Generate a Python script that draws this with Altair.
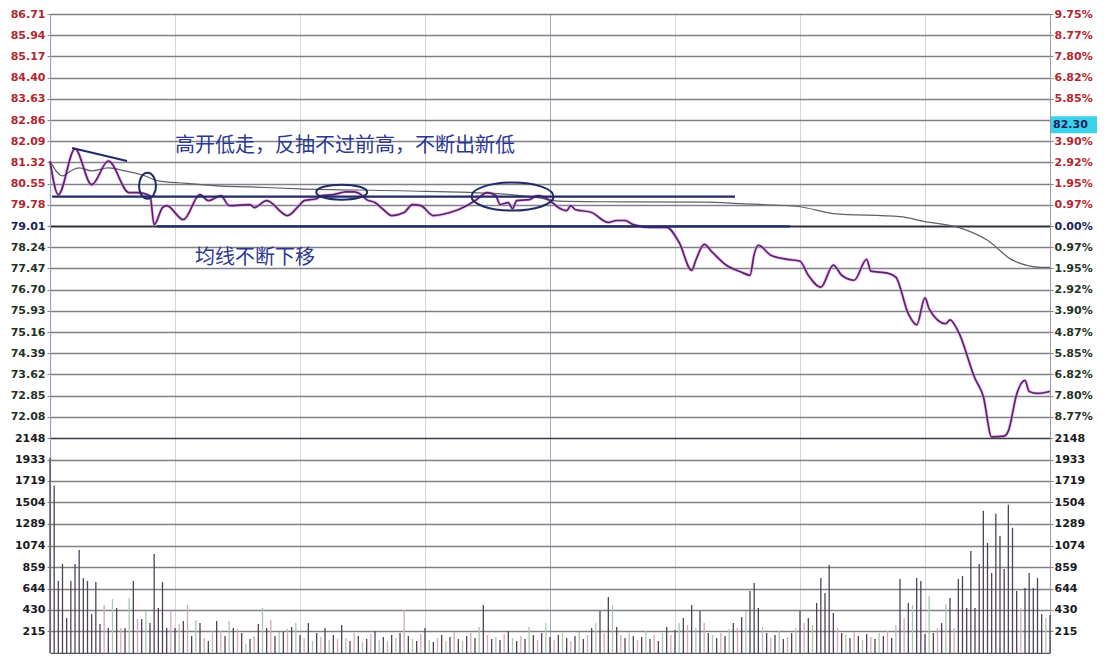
import altair as alt
import pandas as pd

# ---------------- data ----------------
price_minutes = [0, 2, 6, 10, 14, 19, 21, 24, 25, 27, 28, 32, 36, 38, 41, 43, 48, 49, 52, 57,
                 60, 61, 64, 65, 68, 71, 73, 75, 76, 78, 80, 82, 85, 87, 89, 92, 96, 100, 102, 105,
                 107, 108, 110, 111, 112, 115, 117, 120, 122, 124, 125, 126, 130, 134, 136, 138, 140, 144, 148, 151,
                 154, 155, 157, 159, 162, 166, 168, 169, 170, 173, 177, 180, 182, 185, 188, 190, 193, 196, 197, 201,
                 203, 206, 208, 210, 211, 215, 216, 218, 222, 224, 226, 229, 230, 232, 234, 235, 237, 240]
price_values = [81.37, 80.15, 81.81, 80.51, 81.37, 80.22, 80.22, 80.11, 79.06, 79.68,
                79.75, 79.24, 80.15, 79.93, 80.11, 79.75, 79.79, 79.68, 79.93, 79.39,
                79.79, 79.93, 80.00, 80.11, 80.15, 80.25, 80.25, 80.11, 79.97, 79.86,
                79.61, 79.39, 79.50, 79.79, 79.75, 79.39, 79.50, 79.75, 79.93, 80.22,
                80.11, 79.79, 79.86, 79.64, 79.93, 79.97, 80.11, 79.93, 79.68, 79.57,
                79.75, 79.61, 79.50, 79.14, 79.21, 79.21, 79.06, 78.96, 78.96, 78.41,
                77.40, 77.77, 78.34, 78.05, 77.62, 77.33, 77.22, 77.98, 78.31, 77.95,
                77.80, 77.73, 77.22, 76.79, 77.59, 77.22, 77.04, 77.80, 77.37, 77.30,
                77.15, 75.82, 75.42, 76.40, 76.00, 75.46, 75.60, 75.17, 73.47, 72.82,
                71.35, 71.38, 71.56, 72.90, 73.40, 73.00, 72.93, 73.00]

avg_minutes = [0, 3, 5, 7, 10, 14, 18, 22, 26, 31, 40, 48, 60, 84, 108, 117, 122, 132, 157, 166,
               180, 188, 204, 210, 218, 225, 231, 238, 240]
avg_values = [81.37, 80.83, 81.01, 81.12, 81.01, 81.12, 81.01, 80.87, 80.65, 80.58,
              80.47, 80.43, 80.36, 80.29, 80.18, 80.04, 79.91, 79.89, 79.88, 79.82,
              79.71, 79.46, 79.35, 79.17, 78.96, 78.49, 77.77, 77.51, 77.51]

volume = [1950, 1670, 720, 890, 350, 720, 890, 1030, 750, 720,
          390, 710, 290, 480, 250, 540, 450, 250, 250, 550,
          720, 340, 340, 420, 300, 990, 450, 710, 250, 420,
          250, 290, 320, 480, 170, 330, 300, 150, 120, 220,
          320, 220, 170, 320, 250, 240, 200, 90, 140, 170,
          290, 450, 250, 330, 170, 210, 210, 240, 260, 300,
          180, 150, 300, 120, 200, 160, 250, 130, 180, 140,
          280, 150, 120, 200, 170, 110, 140, 190, 220, 130,
          160, 120, 180, 150, 200, 430, 170, 140, 120, 190,
          250, 130, 110, 150, 180, 120, 160, 210, 140, 120,
          170, 200, 150, 260, 480, 180, 140, 160, 130, 190,
          220, 150, 120, 170, 140, 260, 180, 130, 200, 300,
          160, 130, 180, 200, 150, 120, 170, 210, 140, 180,
          250, 300, 420, 200, 560, 480, 260, 180, 150, 200,
          170, 130, 160, 220, 140, 180, 120, 200, 260, 180,
          230, 300, 350, 280, 480, 250, 420, 300, 200, 180,
          150, 200, 170, 240, 300, 250, 360, 420, 620, 700,
          450, 260, 200, 150, 180, 220, 140, 160, 200, 250,
          420, 300, 350, 280, 500, 750, 600, 880, 400, 250,
          200, 180, 150, 210, 170, 130, 190, 160, 140, 200,
          170, 220, 150, 280,
          740, 350, 500, 480, 750, 720, 190, 570, 200, 250,
          300, 490, 550, 250, 740, 770, 450, 1020, 450, 890,
          1420, 1100, 800, 1390, 1170, 840, 1480, 1250, 620, 450,
          650, 800, 650, 750, 390, 350, 380]

price_ticks = [86.71, 85.94, 85.17, 84.40, 83.63, 82.86, 82.09, 81.32, 80.55, 79.78,
               79.01, 78.24, 77.47, 76.70, 75.93, 75.16, 74.39, 73.62, 72.85, 72.08]
pct_ticks = [v for v in price_ticks if v != 82.86]
vol_ticks = [215, 430, 644, 859, 1074, 1289, 1504, 1719, 1933, 2148]
time_ticks = [0, 30, 60, 90, 120, 150, 180, 210, 240]

prev_close = 79.01
price_low, price_high = 71.31, 86.71
vol_max = 2148

# annotations
trend_t = [5.3, 18.5]
trend_p = [81.84, 81.37]
hline_p = [80.08, 79.00]
hline_t1 = [0.5, 25.7]
hline_t2 = [164.4, 177.6]
ell_id = ["a", "b", "c"]
ell_t = [23.4, 70.0, 111.0]
ell_p = [80.47, 80.24, 80.08]
note_text = ["高开低走，反抽不过前高，不断出新低", "均线不断下移"]
note_t = [30.0, 34.8]
note_p = [81.91, 77.84]
box_label = ["82.30"]
box_top, box_bottom, box_mid = [83.00], [82.38], [82.69]

# ---------------- frames ----------------
price_df = pd.DataFrame({"t": price_minutes, "p": price_values})
avg_df = pd.DataFrame({"t": avg_minutes, "p": avg_values})
vol_df = pd.DataFrame({"t": list(range(len(volume))), "v": volume})
vol_df["c"] = ["dark" if (v >= 600 or t % 2 == 0) else ("pink" if t % 4 == 1 else "green")
               for t, v in zip(vol_df.t, vol_df.v)]
trend_df = pd.DataFrame({"t": trend_t, "p": trend_p})
hline_df = pd.DataFrame({"t1": hline_t1, "t2": hline_t2, "p": hline_p})
ell_df = pd.DataFrame({"id": ell_id, "t": ell_t, "p": ell_p})
note_df = pd.DataFrame({"txt": note_text, "t": note_t, "p": note_p})
box_df = pd.DataFrame({"lab": box_label, "p1": box_top, "p2": box_bottom, "pm": box_mid})

W, H1, H2 = 1000, 424, 215
NAVY = "#1f2a66"
LABEL_FONT = "DejaVu Sans"

xs = alt.Scale(domain=[0, 240], nice=False, zero=False)
ys = alt.Scale(domain=[price_low, price_high], nice=False, zero=False)
vs = alt.Scale(domain=[0, vol_max], nice=False, zero=True)

xgrid_color = {"condition": {"test": "datum.value === 120", "value": "#a6a6b4"}, "value": "#d6d6de"}

x_axis_top = alt.Axis(values=time_ticks, grid=True, gridColor=xgrid_color, gridWidth=1,
                      labels=False, ticks=False, domain=False, title=None)
x_top = alt.X("t:Q", scale=xs, axis=x_axis_top)

is_pc = "abs(datum.value - 79.01) < 0.001"
label_color_price = {"condition": [{"test": is_pc, "value": "#1b2258"},
                                   {"test": "datum.value > 79.02", "value": "#b3262e"}],
                     "value": "#1f3324"}

y_left = alt.Axis(orient="left", values=price_ticks, title=None, format=".2f",
                  grid=True,
                  gridColor={"condition": {"test": is_pc, "value": "#2f2f3a"}, "value": "#808086"},
                  gridWidth={"condition": {"test": is_pc, "value": 2}, "value": 1.3},
                  labelColor=label_color_price, labelFont=LABEL_FONT, labelFontSize=11,
                  labelFontWeight="bold", tickSize=3, tickColor="#808086", labelPadding=2,
                  domain=True, domainColor="#9aa2bc", domainWidth=1.2,
                  minExtent=42, maxExtent=42)
y_right = alt.Axis(orient="right", values=pct_ticks, title=None, grid=False,
                   labelExpr="format(abs(datum.value - 79.01) / 79.01 * 100, '.2f') + '%'",
                   labelColor=label_color_price, labelFont=LABEL_FONT, labelFontSize=11,
                   labelFontWeight="bold", tickSize=3, tickColor="#808086", labelPadding=1,
                   domain=True, domainColor="#9a9aa6", domainWidth=1,
                   minExtent=48, maxExtent=48)

halo = alt.Chart(price_df).mark_line(color="#e38ce3", strokeWidth=3.4, opacity=0.5,
                                     interpolate="monotone").encode(
    x=x_top, y=alt.Y("p:Q", scale=ys, axis=y_left))
avg_line = alt.Chart(avg_df).mark_line(color="#5f5f68", strokeWidth=1.2,
                                       interpolate="monotone").encode(
    x=x_top, y=alt.Y("p:Q", scale=ys, axis=y_right))
price_line = alt.Chart(price_df).mark_line(color="#5a2370", strokeWidth=1.7,
                                           interpolate="monotone").encode(
    x=x_top, y=alt.Y("p:Q", scale=ys, axis=None))
trend = alt.Chart(trend_df).mark_line(color=NAVY, strokeWidth=2).encode(
    x=x_top, y=alt.Y("p:Q", scale=ys, axis=None))
hlines = alt.Chart(hline_df).mark_rule(color=NAVY, strokeWidth=2.2).encode(
    x=alt.X("t1:Q", scale=xs, axis=x_axis_top), x2="t2:Q",
    y=alt.Y("p:Q", scale=ys, axis=None))
ell_paths = ["M -8.5 0 A 8.5 13 0 1 0 8.5 0 A 8.5 13 0 1 0 -8.5 0 Z",
             "M -25.5 0 A 25.5 7.5 0 1 0 25.5 0 A 25.5 7.5 0 1 0 -25.5 0 Z",
             "M -41 0 A 41 14 0 1 0 41 0 A 41 14 0 1 0 -41 0 Z"]
ellipses = alt.Chart(ell_df).mark_point(filled=False, size=4, color=NAVY, strokeWidth=2,
                                        opacity=1).encode(
    x=x_top, y=alt.Y("p:Q", scale=ys, axis=None),
    shape=alt.Shape("id:N", scale=alt.Scale(domain=ell_id, range=ell_paths), legend=None))
notes = alt.Chart(note_df).mark_text(align="left", baseline="middle", fontSize=20,
                                     font="Noto Sans CJK SC", color="#2b3990").encode(
    x=x_top, y=alt.Y("p:Q", scale=ys, axis=None), text="txt:N")
box = alt.Chart(box_df).mark_rect(color="#3cd2ec").encode(
    x=alt.value(1001), x2=alt.value(1047),
    y=alt.Y("p1:Q", scale=ys, axis=None), y2="p2:Q")
box_text = alt.Chart(box_df).mark_text(align="left", baseline="middle", fontSize=11,
                                       font=LABEL_FONT, fontWeight="bold", color="#1b2258").encode(
    x=alt.value(1003), y=alt.Y("pm:Q", scale=ys, axis=None), text="lab:N")

top = alt.layer(halo, avg_line, price_line, trend, hlines, ellipses, notes, box, box_text).resolve_axis(
    y="independent").properties(width=W, height=H1)

# volume panel
x_axis_bot = alt.Axis(values=time_ticks, grid=True, gridColor=xgrid_color, gridWidth=1,
                      labels=False, ticks=False, domain=True, domainColor="#55555e",
                      domainWidth=1.5, title=None)
x_bot = alt.X("t:Q", scale=xs, axis=x_axis_bot)
is_top = "datum.value === 2148"
yv_left = alt.Axis(orient="left", values=vol_ticks, title=None, format="d", grid=True,
                   gridColor={"condition": {"test": is_top, "value": "#3a3a44"}, "value": "#808086"},
                   gridWidth={"condition": {"test": is_top, "value": 1.7}, "value": 1.3},
                   labelColor="#1a1a22", labelFont=LABEL_FONT, labelFontSize=11,
                   labelFontWeight="bold", tickSize=3, tickColor="#808086", labelPadding=2,
                   domain=True, domainColor="#9aa2bc", domainWidth=1.2,
                   minExtent=42, maxExtent=42)
yv_right = alt.Axis(orient="right", values=vol_ticks, title=None, format="d", grid=False,
                    labelColor="#1a1a22", labelFont=LABEL_FONT, labelFontSize=11,
                    labelFontWeight="bold", tickSize=3, tickColor="#808086", labelPadding=1,
                    domain=True, domainColor="#9a9aa6", domainWidth=1,
                    minExtent=48, maxExtent=48)
bars = alt.Chart(vol_df).mark_rule(strokeWidth=1.3).encode(
    x=x_bot, y=alt.Y("v:Q", scale=vs, axis=yv_left), y2=alt.datum(0),
    color=alt.Color("c:N", scale=alt.Scale(domain=["dark", "pink", "green"],
                                           range=["#4d4358", "#d6a6b2", "#a9c8ad"]), legend=None))
bars_r = alt.Chart(vol_df).mark_point(opacity=0).encode(
    x=x_bot, y=alt.Y("v:Q", scale=vs, axis=yv_right))
bottom = alt.layer(bars, bars_r).resolve_axis(y="independent").properties(width=W, height=H2)

chart = alt.vconcat(top, bottom, spacing=0, bounds="flush").properties(
    padding={"left": 0, "top": 0, "right": 0, "bottom": 0},
    background="white").configure_view(stroke=None)

chart.save("out.html", embed_options={"renderer": "svg", "actions": False})
